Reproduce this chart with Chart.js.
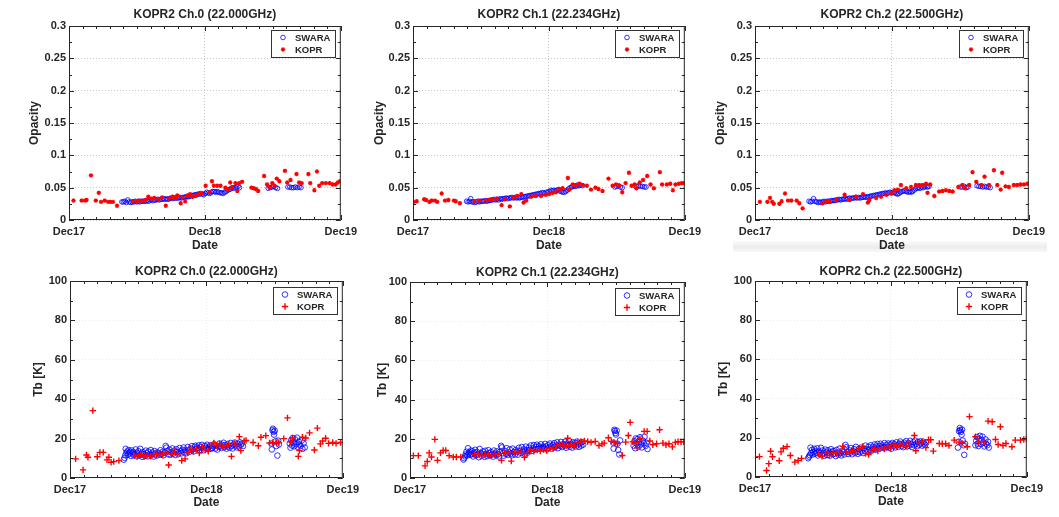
<!DOCTYPE html>
<html>
<head>
<meta charset="utf-8">
<title>KOPR2 vs SWARA</title>
<script src="https://cdn.jsdelivr.net/npm/chart.js@4.4.1/dist/chart.umd.min.js"></script>
<style>
  body { margin: 0; background: #fff; }
  #wrap { position: relative; width: 1059px; height: 517px; overflow: hidden; }
  #wrap canvas { position: absolute; }
  #band { position: absolute; left: 733px; top: 241px; width: 314px; height: 11px;
          background: linear-gradient(#fbfbfb, #ececec 55%, #f8f8f8); }
</style>
</head>
<body>
<div id="wrap">
  <div id="band"></div>
  <canvas id="c0"></canvas><canvas id="c1"></canvas><canvas id="c2"></canvas>
  <canvas id="c3"></canvas><canvas id="c4"></canvas><canvas id="c5"></canvas>
</div>
<script>
// ---- axes / labels ----
const xTickDays = [0, 365, 730];              // days since 1 Dec 2017
const xTickLabels = ['Dec17', 'Dec18', 'Dec19'];
const opacityTicks = [0, 0.05, 0.1, 0.15, 0.2, 0.25, 0.3];
const opacityLabels = ['0', '0.05', '0.1', '0.15', '0.2', '0.25', '0.3'];
const tbTicks = [0, 20, 40, 60, 80, 100];
const tbLabels = ['0', '20', '40', '60', '80', '100'];
const channelTitles = ['KOPR2 Ch.0 (22.000GHz)', 'KOPR2 Ch.1 (22.234GHz)', 'KOPR2 Ch.2 (22.500GHz)'];
const seriesNames = ['SWARA', 'KOPR'];

// ---- opacity, [day, value] ----
const ch0OpSwara = [[142,.028],[146,.028],[150,.029],[154,.027],[158,.031],[162,.028],[166,.027],[170,.028],[174,.028],[178,.029],[182,.028],[186,.029],[190,.028],[194,.029],[198,.029],[202,.029],[206,.029],[210,.030],[214,.029],[218,.031],[222,.031],[226,.030],[230,.031],[234,.031],[238,.032],[242,.031],[246,.032],[250,.032],[254,.033],[258,.032],[262,.033],[266,.032],[270,.033],[274,.034],[278,.033],[282,.034],[286,.034],[290,.034],[294,.034],[298,.035],[302,.034],[306,.035],[310,.035],[314,.036],[318,.036],[322,.036],[326,.037],[330,.038],[334,.038],[338,.039],[342,.039],[346,.040],[350,.040],[354,.041],[358,.040],[362,.039],[366,.041],[370,.043],[374,.042],[378,.041],[382,.043],[386,.044],[390,.044],[394,.043],[398,.044],[402,.043],[406,.042],[410,.042],[414,.041],[418,.043],[422,.044],[426,.046],[430,.047],[434,.048],[438,.050],[442,.049],[446,.050],[450,.051],[454,.052],[458,.050],
  [535,.049],[540,.050],[545,.051],[550,.052],[555,.050],[560,.049],
  [588,.051],[593,.051],[598,.050],[603,.050],[608,.051],[613,.050],[618,.051],[623,.050]];
const ch0OpKopr = [[12,.030],[34,.030],[43,.030],[47,.031],[59,.069],[72,.030],[80,.042],[86,.028],[96,.030],[105,.028],[111,.028],[118,.028],[129,.022],
  [171,.029],[181,.029],[189,.030],[198,.029],[206,.031],[213,.036],[222,.033],[229,.034],[240,.032],[250,.035],[260,.022],[268,.033],[278,.036],[286,.034],[291,.038],[300,.026],[305,.035],[312,.029],[318,.038],[325,.040],[332,.036],[340,.037],[349,.040],[356,.041],[367,.053],[378,.043],[384,.060],[389,.053],[398,.053],[407,.053],[420,.050],[427,.047],[433,.058],[438,.050],[447,.057],[452,.045],[457,.057],[465,.059],
  [490,.050],[496,.049],[502,.048],[508,.045],[524,.068],[532,.055],[540,.050],[546,.057],[552,.053],[558,.064],[565,.060],[580,.076],[586,.058],[595,.062],[611,.071],[618,.058],[625,.057],[643,.071],[648,.057],[659,.046],[666,.075],[672,.053],[680,.057],[690,.057],[700,.057],[708,.055],[716,.055],[722,.058],[728,.060]];

const ch1OpSwara = [[144,.029],[148,.028],[152,.029],[155,.033],[158,.028],[162,.028],[166,.027],[170,.028],[174,.029],[178,.028],[182,.029],[186,.029],[190,.029],[194,.030],[198,.029],[202,.030],[206,.030],[210,.031],[214,.031],[218,.032],[222,.031],[226,.032],[230,.031],[234,.033],[238,.032],[242,.033],[246,.033],[250,.034],[254,.033],[258,.034],[262,.034],[266,.035],[270,.034],[274,.035],[278,.034],[282,.035],[286,.034],[290,.035],[294,.035],[298,.036],[302,.036],[306,.037],[310,.037],[314,.038],[318,.038],[322,.039],[326,.039],[330,.040],[334,.040],[338,.041],[342,.041],[346,.042],[350,.042],[354,.041],[358,.043],[362,.043],[366,.044],[370,.046],[374,.045],[378,.046],[382,.045],[386,.046],[390,.047],[394,.045],[398,.044],[402,.043],[406,.043],[410,.044],[414,.046],[418,.048],[422,.050],[426,.051],[430,.052],[434,.053],[438,.052],[442,.054],[446,.053],[450,.054],[455,.053],
  [542,.051],[547,.052],[552,.053],[557,.051],[562,.050],
  [596,.053],[601,.052],[606,.053],[611,.052],[616,.052],[621,.051],[626,.051]];
const ch1OpKopr = [[2,.028],[10,.029],[30,.032],[35,.031],[44,.028],[50,.030],[59,.030],[65,.028],[77,.041],[86,.030],[95,.031],[110,.030],[115,.029],[126,.026],
  [165,.029],[178,.030],[196,.030],[205,.031],[214,.032],[225,.033],[238,.023],[247,.032],[260,.021],[269,.034],[280,.037],[291,.040],[297,.027],[304,.030],[317,.036],[330,.037],[344,.037],[357,.039],[366,.040],[375,.042],[384,.043],[393,.048],[402,.049],[416,.065],[420,.047],[429,.055],[438,.054],[447,.056],[456,.054],[467,.053],[478,.047],[490,.050],[498,.048],[509,.045],
  [525,.064],[536,.053],[545,.055],[554,.053],[562,.043],[571,.057],[580,.073],[587,.053],[595,.055],[600,.049],[609,.058],[618,.062],[629,.068],[638,.055],[647,.049],[663,.074],[669,.055],[682,.055],[691,.056],[698,.046],[705,.055],[714,.056],[722,.057],[728,.057]];

const ch2OpSwara = [[144,.029],[148,.028],[152,.029],[156,.033],[160,.029],[164,.028],[168,.027],[172,.028],[176,.027],[180,.028],[184,.029],[188,.028],[192,.029],[196,.029],[200,.029],[204,.030],[208,.030],[212,.030],[216,.031],[220,.031],[224,.032],[228,.031],[232,.032],[236,.032],[240,.033],[244,.032],[248,.033],[252,.034],[256,.033],[260,.034],[264,.034],[268,.035],[272,.034],[276,.035],[280,.034],[284,.035],[288,.035],[292,.036],[296,.035],[300,.036],[304,.036],[308,.037],[312,.037],[316,.038],[320,.038],[324,.039],[328,.039],[332,.040],[336,.040],[340,.041],[344,.041],[348,.042],[352,.041],[356,.042],[360,.043],[364,.042],[368,.043],[372,.042],[376,.041],[380,.040],[384,.041],[388,.043],[392,.044],[396,.045],[400,.045],[404,.044],[408,.043],[412,.044],[416,.043],[420,.044],[424,.046],[428,.048],[432,.049],[436,.050],[440,.049],[444,.051],[448,.050],[452,.051],[456,.052],[460,.051],[464,.052],
  [548,.051],[553,.051],[558,.052],[563,.050],[568,.051],
  [592,.053],[597,.052],[602,.052],[607,.051],[612,.052],[617,.051],[622,.051],[627,.050]];
const ch2OpKopr = [[13,.028],[33,.028],[40,.034],[46,.028],[50,.025],[65,.025],[71,.029],[80,.041],[88,.030],[97,.030],[111,.030],[118,.026],[127,.018],
  [180,.026],[190,.029],[199,.029],[217,.031],[239,.039],[252,.031],[270,.036],[288,.040],[301,.027],[305,.031],[323,.034],[336,.036],[350,.039],[363,.041],[372,.046],[381,.047],[389,.054],[403,.049],[416,.051],[429,.054],[438,.054],[447,.054],[456,.056],[460,.042],[467,.055],
  [478,.037],[491,.044],[500,.045],[509,.046],[518,.045],[527,.044],[542,.051],[553,.054],[560,.049],[571,.054],[580,.074],[590,.059],[604,.054],[612,.067],[624,.054],[637,.077],[646,.054],[655,.047],[659,.073],[668,.052],[677,.051],[690,.054],[699,.054],[708,.055],[717,.055],[726,.056]];

// ---- brightness temperature Tb [K], [day, value] ----
const ch0TbSwara = [[144,9.3],[146,10.2],[148,11.5],[149,14.8],[151,12.8],[153,13.5],[155,11.8],[157,14.2],[159,12.4],[161,13.0],[163,11.2],[165,14.0],[167,12.5],[169,13.2],[171,11.6],[173,12.2],[176,14.5],[178,11.0],[180,12.8],[183,13.6],[185,11.5],[188,14.8],[190,12.0],[193,10.8],[195,13.1],[198,12.2],[200,11.2],[203,13.9],[205,12.6],[208,11.0],[210,13.4],[213,12.0],[216,14.2],[218,11.6],[221,12.9],[224,10.9],[226,13.7],[229,12.3],[232,11.4],[234,13.0],[237,12.6],[240,11.8],[242,14.1],[245,12.2],[248,13.3],[250,11.5],[253,12.8],[256,16.3],[258,15.4],[261,13.6],[263,12.0],[266,14.4],[269,11.8],[271,13.1],[274,15.0],[277,12.4],[279,13.9],[282,11.7],[285,14.6],[287,13.2],[290,12.1],[293,15.2],[296,13.6],[298,12.5],[301,14.3],[304,15.5],[306,13.0],[309,14.0],[312,12.6],[315,15.7],[317,14.1],[320,13.3],[323,15.0],[326,16.2],[328,14.4],[331,13.5],[334,15.8],[336,16.4],[339,14.9],[342,15.3],[345,16.6],[347,14.2],[350,15.6],[353,16.8],[356,15.0],[358,14.1],[361,16.2],[364,15.4],[367,16.9],[369,14.6],[372,15.8],[375,16.5],[378,14.8],[380,15.3],[383,16.1],[386,17.2],[389,15.0],[391,16.4],[394,14.4],[397,15.9],[400,17.5],[402,16.0],[405,15.2],[408,16.8],[411,17.9],[413,15.6],[416,16.6],[419,14.9],[422,17.3],[424,16.1],[427,15.4],[430,17.8],[433,16.3],[435,15.0],[438,17.0],[441,18.0],[444,16.5],[446,15.6],[449,17.4],[452,16.0],[455,18.1],[457,16.8],[460,17.5],[463,16.2],
  [539,17.5],[540,14.5],[542,24.2],[543,25.0],[545,23.4],[546,22.0],[548,24.0],[550,18.6],[552,16.2],[555,11.4],[557,19.0],[559,17.0],
  [588,17.5],[590,15.4],[592,19.2],[594,16.5],[596,20.3],[598,18.0],[600,16.1],[602,19.6],[605,17.2],[607,20.5],[609,15.8],[612,18.4],[614,17.0],[617,16.2],[620,19.0],[622,14.8],[625,17.6],[628,15.5]];
const ch0TbKopr = [[15,9.7],[35,4.1],[44,11.7],[48,10.5],[61,34.2],[73,10.8],[80,13.0],[89,13.0],[99,9.2],[104,10.5],[110,8.0],[117,8.3],[131,8.8],
  [171,11.5],[180,11.0],[189,11.8],[198,10.7],[206,11.4],[215,11.0],[224,12.3],[232,11.8],[240,12.5],[248,11.6],[256,12.8],[264,6.6],[272,12.0],[280,13.5],[288,12.2],[299,8.8],[308,9.7],[315,13.0],[322,14.5],[330,13.6],[338,14.8],[346,12.7],[355,15.8],[362,14.2],[370,13.6],[378,16.6],[385,17.8],[392,16.5],[400,17.4],[408,16.2],[416,15.8],[424,16.9],[432,11.0],[441,17.6],[448,16.5],[453,21.0],[457,13.9],[466,18.8],[471,19.0],[490,18.0],[504,16.4],[511,20.7],[524,21.5],[534,17.8],[542,18.0],[553,17.8],[559,18.0],[572,20.0],[582,30.5],[590,18.4],[595,20.3],[611,11.0],[614,13.9],[622,20.7],[631,20.3],[641,22.9],[654,14.2],[662,25.3],[670,17.3],[676,18.8],[684,20.2],[692,17.6],[703,18.0],[712,17.6],[724,18.0]];

const ch1TbSwara = [[142,9.4],[144,10.1],[146,11.0],[148,12.0],[150,13.4],[152,11.5],[154,15.2],[156,12.4],[158,13.1],[160,11.8],[162,14.0],[164,12.2],[166,13.6],[168,11.0],[171,12.8],[173,14.4],[175,11.6],[178,13.3],[180,12.0],[183,10.6],[185,14.8],[188,12.6],[190,11.3],[193,13.5],[195,12.1],[198,10.8],[200,13.9],[203,12.4],[205,11.2],[208,14.2],[210,12.7],[213,11.5],[215,13.2],[218,12.0],[221,10.9],[223,14.0],[226,12.5],[229,11.6],[231,13.6],[234,12.2],[236,11.0],[239,13.3],[242,16.4],[244,15.6],[247,12.6],[249,11.4],[252,13.8],[255,12.3],[257,15.2],[260,11.8],[263,13.0],[265,14.6],[268,12.4],[271,11.6],[273,15.0],[276,13.2],[279,12.0],[281,14.2],[284,13.4],[287,11.9],[289,15.4],[292,14.0],[295,12.8],[297,15.8],[300,13.6],[303,14.6],[305,12.4],[308,16.0],[311,14.2],[313,13.0],[316,15.5],[319,14.4],[321,16.6],[324,13.8],[327,15.2],[329,16.8],[332,14.5],[335,15.9],[337,17.0],[340,14.8],[343,16.2],[345,15.4],[348,17.2],[351,14.9],[353,16.0],[356,15.3],[359,17.4],[361,16.1],[364,14.6],[367,16.8],[369,15.5],[372,17.6],[375,16.2],[377,15.0],[380,16.9],[383,17.8],[385,15.6],[388,16.4],[391,18.2],[393,15.2],[396,17.0],[399,16.3],[401,18.4],[404,15.8],[407,17.3],[409,16.6],[412,18.5],[415,15.4],[417,17.6],[420,16.8],[423,18.8],[425,16.0],[428,17.4],[431,15.5],[433,18.2],[436,16.7],[439,17.9],[441,16.1],[444,18.6],[447,17.2],[449,15.9],[452,17.8],[455,16.5],[457,18.3],[460,17.0],
  [540,18.0],[541,15.0],[543,24.6],[544,24.0],[546,23.0],[547,22.2],[549,24.2],[551,17.5],[553,14.3],[556,12.0],[558,19.2],
  [594,16.5],[596,18.8],[598,15.2],[600,20.2],[602,17.6],[604,19.8],[607,16.0],[609,18.5],[611,20.8],[614,17.2],[616,15.6],[619,19.0],[621,17.8],[623,21.0],[626,16.4],[628,18.0],[631,14.8]];
const ch1TbKopr = [[9,11.4],[22,11.4],[40,6.2],[46,8.4],[51,12.8],[57,10.7],[66,19.7],[73,9.0],[81,12.8],[88,14.0],[95,14.0],[104,11.4],[115,10.7],[123,10.7],[135,10.7],
  [172,12.0],[181,12.2],[190,11.4],[199,11.8],[208,12.0],[216,11.3],[226,12.4],[234,12.1],[243,9.0],[252,13.0],[260,12.6],[269,8.6],[278,13.2],[286,12.8],[295,13.5],[304,10.6],[312,12.5],[320,14.0],[329,13.6],[338,14.2],[346,13.8],[355,14.5],[363,14.0],[372,15.2],[380,15.0],[389,16.5],[398,17.0],[406,16.8],[415,16.3],[419,20.3],[427,17.0],[436,16.2],[445,18.2],[454,18.6],[463,18.9],[472,18.6],[481,18.2],[492,18.6],[502,16.6],[510,17.4],[516,17.8],[527,20.5],[535,18.7],[542,18.2],[551,17.5],[564,11.5],[573,18.3],[580,21.7],[585,28.4],[592,18.5],[600,18.0],[604,15.4],[611,20.0],[622,23.8],[630,23.8],[637,18.9],[645,17.0],[655,17.5],[663,24.6],[672,17.8],[680,16.9],[688,17.5],[697,15.9],[705,18.2],[712,18.5],[720,18.5],[727,18.5]];

const ch2TbSwara = [[143,9.6],[145,10.4],[147,11.2],[149,15.0],[151,12.2],[153,13.8],[155,11.5],[157,12.8],[159,14.4],[161,11.9],[163,13.2],[165,12.4],[167,14.6],[169,11.0],[172,13.0],[174,12.1],[177,14.9],[179,11.4],[181,13.5],[184,12.2],[186,10.8],[189,14.0],[191,12.6],[194,11.2],[196,13.6],[199,12.4],[201,10.9],[204,14.2],[206,12.8],[209,11.6],[211,13.3],[214,12.0],[217,10.7],[219,13.8],[222,12.5],[224,11.4],[227,14.5],[230,12.2],[232,11.0],[235,13.4],[237,12.6],[240,11.5],[243,16.4],[245,15.2],[248,12.9],[250,11.8],[253,13.6],[256,12.4],[258,14.8],[261,11.6],[263,13.1],[266,14.2],[269,12.3],[271,15.4],[274,13.0],[276,11.8],[279,14.3],[282,12.6],[284,15.0],[287,13.5],[290,12.2],[292,14.6],[295,13.3],[297,16.0],[300,14.1],[303,12.9],[305,15.4],[308,14.0],[311,16.2],[313,13.4],[316,15.2],[318,14.3],[321,16.6],[324,13.9],[326,15.5],[329,16.9],[332,14.6],[334,15.8],[337,17.0],[340,14.9],[342,16.1],[345,15.2],[348,17.3],[350,14.7],[353,16.4],[356,15.5],[358,17.1],[361,15.0],[364,16.6],[366,14.4],[369,17.4],[372,15.9],[374,16.8],[377,15.1],[380,17.7],[382,16.2],[385,15.4],[388,17.0],[390,18.1],[393,15.8],[396,16.9],[398,15.2],[401,17.5],[404,16.4],[406,18.3],[409,15.6],[412,17.2],[414,16.0],[417,18.4],[420,16.7],[422,15.3],[425,17.8],[428,16.2],[430,18.6],[433,17.0],[436,15.7],[438,17.9],[441,16.5],[444,18.2],[446,17.2],[449,16.0],[452,18.0],[454,17.1],[457,16.4],[460,17.6],
  [545,15.0],[547,18.0],[548,23.4],[550,25.0],[551,24.0],[553,23.0],[555,21.6],[556,24.2],[558,18.6],[560,16.2],[562,11.3],[564,17.0],
  [592,16.2],[594,18.5],[596,20.4],[598,17.0],[600,15.8],[602,19.5],[604,21.0],[607,16.8],[609,18.8],[611,20.6],[614,17.5],[616,15.6],[619,19.2],[621,17.0],[624,16.2],[626,18.0],[628,15.0]];
const ch2TbKopr = [[12,10.4],[31,3.3],[37,6.8],[42,13.1],[47,10.3],[65,8.3],[70,12.8],[76,14.7],[86,15.5],[95,11.0],[107,7.6],[116,8.4],[125,9.5],
  [170,11.8],[180,10.5],[190,12.2],[200,11.0],[210,12.4],[220,12.0],[228,12.9],[236,15.6],[245,12.8],[254,12.5],[262,13.5],[270,12.2],[280,14.4],[289,15.6],[297,12.0],[305,11.5],[314,13.8],[322,14.4],[330,13.2],[339,15.0],[347,14.2],[356,15.8],[364,14.9],[372,16.6],[380,15.5],[389,16.8],[398,16.0],[406,15.6],[414,17.2],[428,21.2],[432,13.4],[441,17.3],[450,18.2],[459,15.0],[466,19.0],[472,19.0],[479,13.2],[495,17.1],[503,17.0],[512,17.0],[521,16.1],[535,18.8],[548,17.8],[556,17.2],[570,15.4],[576,30.8],[592,20.5],[600,18.0],[615,17.9],[626,28.5],[637,28.2],[646,19.1],[653,16.6],[659,25.6],[666,16.1],[674,17.1],[690,15.4],[699,18.8],[713,18.8],[722,19.1],[729,19.5]];

// ---- panel layout (plot box in page px: left, top, right, bottom) ----
const panels = [
  { id: 'c0', box: [69, 26, 342, 220], ch: 0, kind: 'op', swara: ch0OpSwara, kopr: ch0OpKopr, yPad: 20 },
  { id: 'c1', box: [413, 26, 686, 220], ch: 1, kind: 'op', swara: ch1OpSwara, kopr: ch1OpKopr, yPad: 21 },
  { id: 'c2', box: [755, 26, 1030, 220], ch: 2, kind: 'op', swara: ch2OpSwara, kopr: ch2OpKopr, yPad: 20 },
  { id: 'c3', box: [70, 281, 344, 478], ch: 0, kind: 'tb', swara: ch0TbSwara, kopr: ch0TbKopr, yPad: 23 },
  { id: 'c4', box: [410, 282, 686, 478], ch: 1, kind: 'tb', swara: ch1TbSwara, kopr: ch1TbKopr, yPad: 27 },
  { id: 'c5', box: [755, 281, 1028, 477], ch: 2, kind: 'tb', swara: ch2TbSwara, kopr: ch2TbKopr, yPad: 23 }
];

const FONT = "'Liberation Sans', Arial, Helvetica, sans-serif";
const INK = '#262626';
const LEFT_W = 62, RIGHT_W = 20, TOP_H = 26, BOTTOM_H = 42;

// frame, inward ticks and in-axes legend (MATLAB look)
const matlabBox = {
  id: 'matlabBox',
  afterDraw(chart, args, opts) {
    const { ctx, chartArea: a, scales: { x, y } } = chart;
    ctx.save();
    ctx.strokeStyle = INK;
    ctx.lineWidth = 1;
    ctx.strokeRect(a.left + 0.5, a.top + 0.5, a.right - a.left - 1, a.bottom - a.top - 1);

    ctx.beginPath();
    for (let i = 0; i <= 20; i++) {
      const px = Math.round(x.getPixelForValue(i * 36.5)) + 0.5;
      const len = i % 10 === 0 ? 5 : 3;
      ctx.moveTo(px, a.bottom); ctx.lineTo(px, a.bottom - len);
      ctx.moveTo(px, a.top); ctx.lineTo(px, a.top + len);
    }
    const t = opts.ticks;
    const step = t[1] - t[0];
    for (let i = 0; i < t.length * 2 - 1; i++) {
      const py = Math.round(y.getPixelForValue(i * step / 2)) + 0.5;
      const len = i % 2 === 0 ? 5 : 3;
      ctx.moveTo(a.left, py); ctx.lineTo(a.left + len, py);
      ctx.moveTo(a.right, py); ctx.lineTo(a.right - len, py);
    }
    ctx.stroke();

    // legend
    const w = 64, h = 27;
    const bx = Math.round(a.right - 6 - w), by = Math.round(a.top + opts.legendTop);
    ctx.fillStyle = '#fff';
    ctx.fillRect(bx, by, w, h);
    ctx.strokeStyle = '#333';
    ctx.strokeRect(bx + 0.5, by + 0.5, w, h);
    ctx.font = "bold 9.5px " + FONT;
    ctx.textBaseline = 'middle';
    seriesNames.forEach((name, i) => {
      const ds = chart.data.datasets[i];
      const yy = by + 7.5 + i * 12;
      ctx.strokeStyle = ds.borderColor;
      ctx.fillStyle = 'rgba(0,0,0,0)';
      ctx.lineWidth = ds.borderWidth;
      Chart.helpers.drawPoint(ctx, { pointStyle: ds.pointStyle, radius: ds.pointRadius, borderWidth: ds.borderWidth, rotation: 0 }, bx + 12, yy);
      ctx.fillStyle = INK;
      ctx.fillText(name, bx + 24, yy + 0.5);
    });
    ctx.restore();
  }
};

panels.forEach(p => {
  const [L, T, R, B] = p.box;
  const cv = document.getElementById(p.id);
  const W = (R - L) + LEFT_W + RIGHT_W, H = (B - T) + TOP_H + BOTTOM_H;
  cv.width = W; cv.height = H;
  cv.style.left = (L - LEFT_W) + 'px';
  cv.style.top = (T - TOP_H) + 'px';
  cv.style.width = W + 'px'; cv.style.height = H + 'px';

  const isOp = p.kind === 'op';
  const yTicks = isOp ? opacityTicks : tbTicks;
  const yLabels = isOp ? opacityLabels : tbLabels;
  const gridColor = isOp ? '#c8c8c8' : '#ececec';

  new Chart(cv, {
    type: 'scatter',
    data: {
      datasets: [
        {
          label: seriesNames[0],
          data: p.swara.map(([d, v]) => ({ x: d, y: v })),
          pointStyle: 'circle',
          pointRadius: isOp ? 2.3 : 2.8,
          borderWidth: 0.8,
          borderColor: '#0000ff',
          backgroundColor: 'rgba(0,0,0,0)',
          order: 1
        },
        {
          label: seriesNames[1],
          data: p.kopr.map(([d, v]) => ({ x: d, y: v })),
          pointStyle: isOp ? 'star' : 'cross',
          pointRadius: isOp ? 2.2 : 3.2,
          borderWidth: isOp ? 1.2 : 1.4,
          borderColor: '#ff0000',
          backgroundColor: '#ff0000',
          order: 0
        }
      ]
    },
    options: {
      responsive: false,
      animation: false,
      events: [],
      layout: { padding: { left: 0, right: RIGHT_W, top: 0, bottom: 0 } },
      plugins: {
        legend: { display: false },
        tooltip: { enabled: false },
        title: {
          display: true,
          text: channelTitles[p.ch],
          fullSize: false,
          color: INK,
          font: { family: FONT, size: 12, weight: 'bold' },
          padding: isOp ? { top: 7, bottom: 4.6 } : { top: 9, bottom: 2.6 }
        },
        matlabBox: { ticks: yTicks, legendTop: isOp ? 4 : 6 }
      },
      scales: {
        x: {
          type: 'linear',
          min: xTickDays[0],
          max: xTickDays[xTickDays.length - 1],
          afterBuildTicks: s => { s.ticks = xTickDays.map(v => ({ value: v })); },
          afterFit: s => { s.height = BOTTOM_H; },
          ticks: {
            autoSkip: false, maxRotation: 0, padding: 5, color: INK,
            font: { family: FONT, size: 11, weight: 'bold' },
            callback: (v, i) => xTickLabels[i]
          },
          grid: { color: gridColor, drawTicks: false, lineWidth: 1 },
          border: { display: false, dash: [1, 2] },
          title: {
            display: true, text: 'Date', color: INK,
            font: { family: FONT, size: 12, weight: 'bold' },
            padding: { top: 0, bottom: isOp ? 9 : 10 }
          }
        },
        y: {
          type: 'linear',
          min: yTicks[0],
          max: yTicks[yTicks.length - 1],
          afterBuildTicks: s => { s.ticks = yTicks.map(v => ({ value: v })); },
          afterFit: s => { s.width = LEFT_W; },
          ticks: {
            autoSkip: false, padding: 3, color: INK,
            font: { family: FONT, size: 11, weight: 'bold' },
            callback: (v, i) => yLabels[i]
          },
          grid: { color: gridColor, drawTicks: false, lineWidth: 1 },
          border: { display: false, dash: [1, 2] },
          title: {
            display: true, text: isOp ? 'Opacity' : 'Tb [K]', color: INK,
            font: { family: FONT, size: 12, weight: 'bold' },
            padding: { top: p.yPad, bottom: 0 }
          }
        }
      }
    },
    plugins: [matlabBox]
  });
});
</script>
</body>
</html>
